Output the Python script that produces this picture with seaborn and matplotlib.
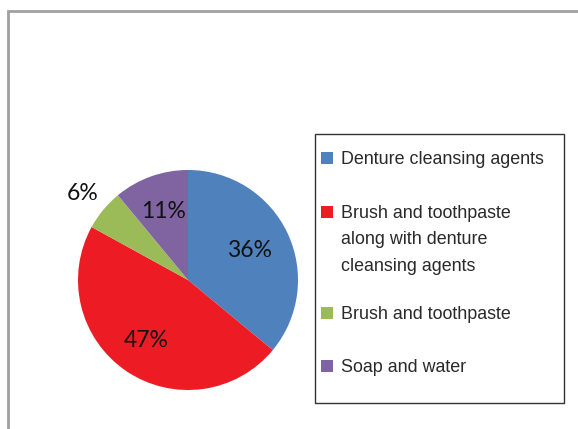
import matplotlib
matplotlib.use("Agg")
import matplotlib.pyplot as plt
from matplotlib.patches import Rectangle
import numpy as np
import seaborn as sns

categories = [
    "Denture cleansing agents",
    "Brush and toothpaste\nalong with denture\ncleansing agents",
    "Brush and toothpaste",
    "Soap and water",
]
values = [36, 47, 6, 11]
colors = ["#4F81BD", "#ED1C24", "#9BBB59", "#8064A2"]

sns.set_theme(style="white")
plt.rcParams["font.family"] = ["Lato", "DejaVu Sans"]

W, H = 578, 429
fig = plt.figure(figsize=(W / 100, H / 100), dpi=100)
fig.patch.set_facecolor("white")

# outer chart frame (runs off the right and bottom edge)
fig.patches.append(Rectangle((7.5 / W, -0.1), 1.2, (H - 10.5) / H + 0.1,
                             transform=fig.transFigure, fill=False,
                             edgecolor="#A0A0A0", linewidth=2.0))

# pie: centre (188, 280) px, radius 110 px
cx, cy, r = 188, 280, 110
ax = fig.add_axes([(cx - r) / W, (H - cy - r) / H, 2 * r / W, 2 * r / H])
wedges, _ = ax.pie(values, colors=colors, startangle=90, counterclock=False,
                   wedgeprops=dict(linewidth=0))
ax.set_xlim(-1, 1)
ax.set_ylim(-1, 1)
ax.set_aspect("equal")
ax.axis("off")

label_radius = [0.62, 0.67, 1.24, 0.66]
for w, v, rad in zip(wedges, values, label_radius):
    mid = np.deg2rad((w.theta1 + w.theta2) / 2)
    ax.text(rad * np.cos(mid), rad * np.sin(mid), f"{v}%",
            ha="center", va="center", fontsize=16.5, color="#111111",
            clip_on=False)

# legend box
lx0, ly0, lx1, ly1 = 315, 134, 564, 403
fig.patches.append(Rectangle((lx0 / W, (H - ly1) / H), (lx1 - lx0) / W,
                             (ly1 - ly0) / H, transform=fig.transFigure,
                             fill=False, edgecolor="#333333", linewidth=1.0))
entry_y = [158, 212, 313, 366]
for name, col, y in zip(categories, colors, entry_y):
    fig.patches.append(Rectangle((321 / W, (H - y - 6) / H), 12 / W, 12 / H,
                                 transform=fig.transFigure, facecolor=col,
                                 edgecolor="none"))
    fig.text(341 / W, (H - y + 7) / H, name, ha="left", va="top",
             fontsize=12.9, family=["Liberation Sans", "DejaVu Sans"],
             color="#2a2a2a", linespacing=1.73, transform=fig.transFigure)

fig.savefig("out.png", dpi=100, facecolor="white")
